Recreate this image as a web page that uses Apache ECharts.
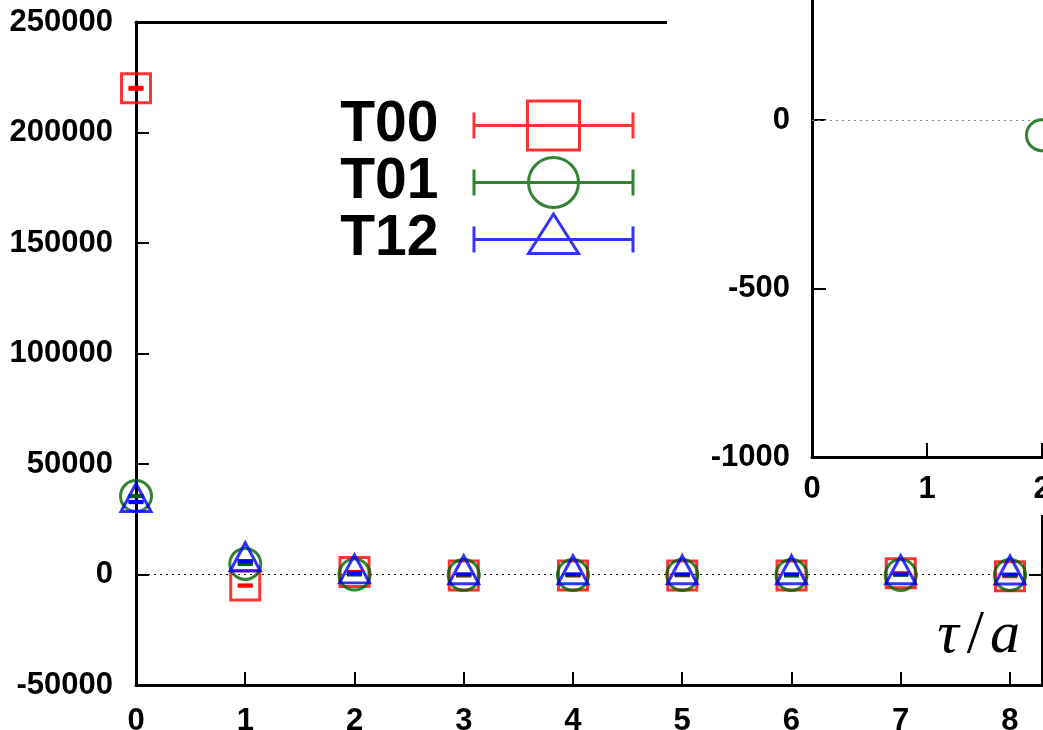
<!DOCTYPE html>
<html>
<head>
<meta charset="utf-8">
<script src="https://cdn.jsdelivr.net/npm/echarts@6/dist/echarts.min.js"></script>
<style>
  html, body { margin: 0; padding: 0; background: #fff; }
  #chart { width: 1043px; height: 730px; }
</style>
</head>
<body>
<div id="chart"></div>
<script>
// Euclidean time slices
const tau = [0, 1, 2, 3, 4, 5, 6, 7, 8];

// Correlator components and their statistical errors
const t00    = [220000, -5000, 1100, -500, -500, -400, -500, 600, -800];
const t00Err = [450, 300, 300, 200, 200, 200, 200, 200, 200];
const t01    = [35500, 4800, -45, -200, -200, -200, -200, -200, -200];
const t01Err = [300, 300, 200, 200, 200, 200, 200, 200, 200];
const t12    = [32800, 6000, 500, 100, 100, 100, 100, 100, 0];
const t12Err = [300, 300, 200, 200, 200, 200, 200, 200, 200];

const seriesNames = ['T00', 'T01', 'T12'];

// Axis ranges
const mainYMin = -50000, mainYMax = 250000, mainYStep = 50000;
const mainXMin = 0, mainXMax = 8.293, mainXStep = 1;
const insetYMin = -1000, insetYMax = 500, insetYStep = 500;
const insetXMin = 0, insetXMax = 4, insetXStep = 1;

const RED = '#ff0000', GREEN = '#006400', BLUE = '#0000ff';
const FONT = 'Liberation Sans';

const chart = echarts.init(document.getElementById('chart'), null, { renderer: 'canvas' });

function pairs(ys) { return tau.map((x, i) => [x, ys[i]]); }

function errorBars(name, ys, errs, color) {
  return {
    type: 'custom',
    name: name + ' err',
    xAxisIndex: 0, yAxisIndex: 0,
    z: 2,
    silent: true,
    data: tau.map((x, i) => [x, ys[i] - errs[i], ys[i] + errs[i]]),
    encode: { x: 0, y: [1, 2] },
    renderItem(params, api) {
      const lo = api.coord([api.value(0), api.value(1)]);
      const hi = api.coord([api.value(0), api.value(2)]);
      const hw = 7.5;
      const style = { stroke: color, lineWidth: 3, fill: null };
      return {
        type: 'group',
        children: [
          { type: 'line', shape: { x1: lo[0], y1: lo[1], x2: hi[0], y2: hi[1] }, style },
          { type: 'line', shape: { x1: lo[0] - hw, y1: lo[1], x2: lo[0] + hw, y2: lo[1] }, style },
          { type: 'line', shape: { x1: hi[0] - hw, y1: hi[1], x2: hi[0] + hw, y2: hi[1] }, style }
        ]
      };
    }
  };
}

const markerDefs = [
  { symbol: 'rect', symbolSize: 29, symbolOffset: [0, 0], color: RED },
  { symbol: 'circle', symbolSize: 31, symbolOffset: [0, 0], color: GREEN },
  { symbol: 'triangle', symbolSize: [30, 28], symbolOffset: [0, -4.5], color: BLUE }
];

function points(idx, ys, xi, yi, z, extra) {
  const m = markerDefs[idx];
  return Object.assign({
    type: 'scatter',
    name: seriesNames[idx],
    xAxisIndex: xi, yAxisIndex: yi,
    z: z,
    clip: true,
    silent: true,
    symbol: m.symbol,
    symbolSize: m.symbolSize,
    symbolOffset: m.symbolOffset,
    itemStyle: { color: 'rgba(0,0,0,0)', borderColor: m.color, borderWidth: 3 },
    data: pairs(ys)
  }, extra || {});
}

const zeroLine = (color, z) => ({
  silent: true,
  symbol: ['none', 'none'],
  label: { show: false },
  lineStyle: { color: color, width: 1, type: [2, 4] },
  data: [{ yAxis: 0 }],
  z: z
});

function axisCommon(z) {
  return {
    type: 'value',
    z: z,
    splitLine: { show: false },
    axisLine: { show: true, onZero: false, lineStyle: { color: '#000', width: 3 } },
    axisTick: { show: true, inside: true, length: 13, lineStyle: { color: '#000', width: 2 } },
    axisLabel: {
      fontFamily: FONT, fontSize: 31, fontWeight: 'bold', color: '#000',
      formatter: v => (Number.isInteger(v) ? String(v) : '')
    }
  };
}

function ax(base, extra) {
  const o = axisCommon(base);
  for (const k in extra) {
    if (typeof extra[k] === 'object' && !Array.isArray(extra[k]) && o[k]) {
      o[k] = Object.assign({}, o[k], extra[k]);
    } else {
      o[k] = extra[k];
    }
  }
  return o;
}

const legendIcons = [
  'path://M0 0 L0 0 M162 52 L162 52 M0 26 L162 26 M1.5 13 L1.5 39 M160.5 13 L160.5 39 M55 1.5 L107 1.5 L107 50.5 L55 50.5 Z',
  'path://M0 0 L0 0 M162 52 L162 52 M0 26 L162 26 M1.5 13 L1.5 39 M160.5 13 L160.5 39 M56 26 A25 25 0 1 1 106 26 A25 25 0 1 1 56 26 Z',
  'path://M0 0 L0 0 M162 52 L162 52 M0 26 L162 26 M1.5 13 L1.5 39 M160.5 13 L160.5 39 M81 0.5 L106 40 L56 40 Z'
];
const legendColors = [RED, GREEN, BLUE];

const option = {
  animation: false,
  backgroundColor: '#fff',
  textStyle: { fontFamily: FONT },
  grid: [
    { left: 136, top: 22, width: 906, height: 663, outerBoundsMode: 'none', containLabel: false },
    { left: 812, top: -48.5, width: 460, height: 505.5, outerBoundsMode: 'none', containLabel: false }
  ],
  legend: {
    orient: 'vertical',
    right: 407,
    top: 97,
    padding: 0,
    itemGap: 0,
    align: 'right',
    itemWidth: 162,
    itemHeight: 52,
    selectedMode: false,
    itemStyle: { borderWidth: 3 },
    textStyle: {
      fontFamily: FONT, fontSize: 57, fontWeight: 'bold', color: '#000',
      lineHeight: 56, padding: [0, 29, 0, 0]
    },
    data: seriesNames.map((n, i) => ({
      name: n,
      icon: legendIcons[i],
      itemStyle: { color: 'rgba(0,0,0,0)', borderColor: legendColors[i], borderWidth: 3 }
    }))
  },
  xAxis: [
    ax(0, {
      gridIndex: 0, position: 'bottom', min: mainXMin, max: mainXMax, interval: mainXStep,
      axisLabel: { margin: 21, showMaxLabel: false },
      name: '{i|τ}{s|/}{i|a}',
      nameLocation: 'end',
      nameGap: -22,
      nameTextStyle: {
        align: 'right', verticalAlign: 'bottom', padding: [0, 0, 18, 0],
        rich: {
          i: { fontFamily: 'Liberation Serif', fontStyle: 'italic', fontSize: 60, color: '#000' },
          s: { fontFamily: 'Liberation Serif', fontSize: 62, color: '#000', padding: [0, 6, 0, 8] }
        }
      }
    }),
    ax(0, {
      gridIndex: 0, position: 'top', min: mainXMin, max: mainXMax, interval: mainXStep,
      axisLabel: { show: false },
      axisTick: { show: false }
    }),
    ax(60, {
      gridIndex: 1, position: 'bottom', min: insetXMin, max: insetXMax, interval: insetXStep,
      axisLabel: { margin: 17 },
      axisTick: { length: 14 }
    })
  ],
  yAxis: [
    ax(0, {
      gridIndex: 0, position: 'left', min: mainYMin, max: mainYMax, interval: mainYStep,
      axisLabel: { margin: 23 }
    }),
    ax(0, {
      gridIndex: 0, position: 'right', min: mainYMin, max: mainYMax, interval: mainYStep,
      axisLabel: { show: false }
    }),
    ax(60, {
      gridIndex: 1, position: 'left', min: insetYMin, max: insetYMax, interval: insetYStep,
      axisLabel: { margin: 22 },
      axisTick: { length: 14 }
    })
  ],
  graphic: [
    // backdrop of the zoomed-in panel
    { type: 'rect', left: 667, top: 0, shape: { width: 376, height: 515 }, style: { fill: '#fff' }, z: 50 }
  ],
  series: [
    errorBars('T00', t00, t00Err, RED),
    points(0, t00, 0, 0, 2, { markLine: zeroLine('#000', 1) }),
    errorBars('T01', t01, t01Err, GREEN),
    points(1, t01, 0, 0, 2),
    errorBars('T12', t12, t12Err, BLUE),
    points(2, t12, 0, 0, 2),
    // zoomed-in panel
    points(0, t00, 2, 2, 61, { markLine: zeroLine('#888', 61) }),
    points(1, t01, 2, 2, 62),
    points(2, t12, 2, 2, 63)
  ]
};

chart.setOption(option);
</script>
</body>
</html>
